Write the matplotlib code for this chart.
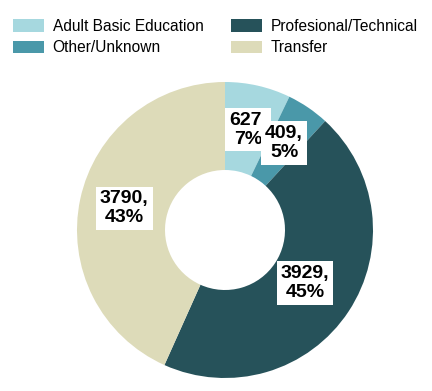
import numpy as np
from matplotlib import pyplot as plt

categories = ["Adult Basic Education", "Other/Unknown", "Profesional/Technical", "Transfer"]
counts = [627, 409, 3929, 3790]
pct_labels = ["7%", "5%", "45%", "43%"]
colors = ["#a6d8df", "#4a98a9", "#26525a", "#dddbb9"]

plt.rcParams["font.family"] = ["Liberation Sans", "DejaVu Sans"]

W, H = 432, 391
fig = plt.figure(figsize=(W/100, H/100), dpi=100)
ax = fig.add_axes([0, 0, 1, 1])

cx, cy, R = 225, H - 230, 148
ring = 88

wedges, _ = ax.pie(counts, colors=colors, startangle=90, counterclock=False,
                   center=(cx, cy), radius=R, frame=True,
                   wedgeprops=dict(width=ring, linewidth=0))
ax.set_xlim(0, W)
ax.set_ylim(0, H)
ax.axis("off")

# labels in the middle of the ring
total = float(sum(counts))
start = 0.0
rlab = [103, 105, 96, 103]
for i, c in enumerate(counts):
    frac = c / total
    mid = np.deg2rad((start + frac / 2) * 360)
    start += frac
    x = cx + rlab[i] * np.sin(mid)
    y = cy + rlab[i] * np.cos(mid)
    ax.text(x, y, "%d,\n%s" % (c, pct_labels[i]), ha="center", va="center",
            fontsize=14, fontweight="bold", color="black", linespacing=1.15,
            zorder=10 + i,
            bbox=dict(boxstyle="square,pad=0.2", fc="white", ec="none"))

fig.legend(wedges, categories, ncol=2, frameon=False, loc="upper left",
           bbox_to_anchor=(13/W, 1 - 19/H), fontsize=11.2,
           handlelength=2.0, handleheight=0.85, handletextpad=0.55,
           columnspacing=1.75, labelspacing=0.4, borderpad=0, borderaxespad=0)

fig.savefig("out.png", dpi=100)
